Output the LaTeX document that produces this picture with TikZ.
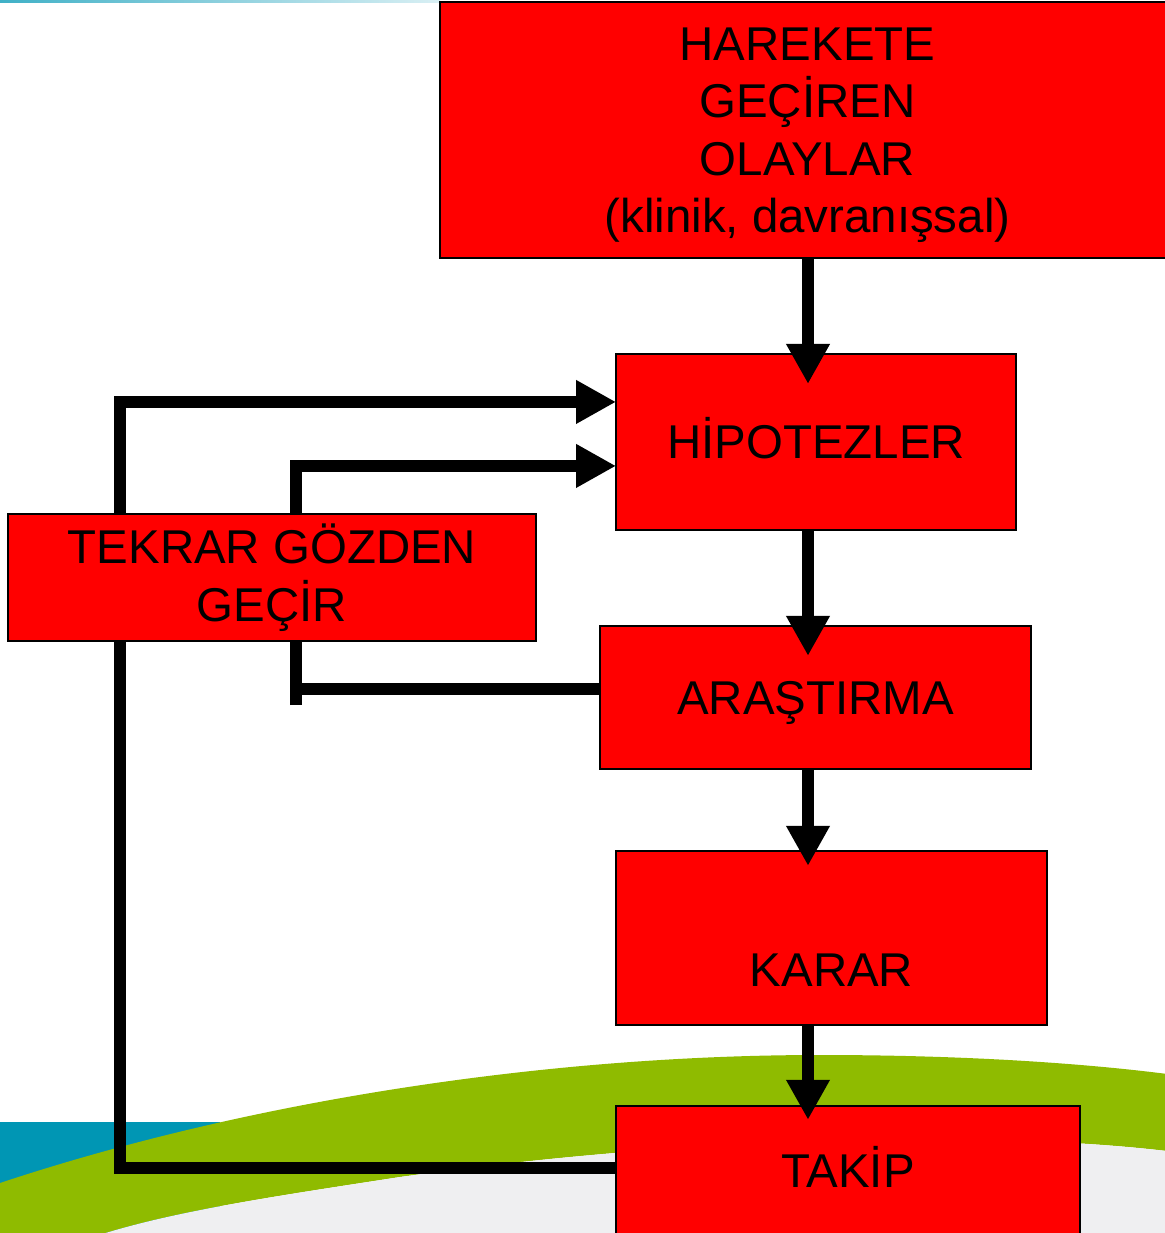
\documentclass[tikz,border=0pt]{standalone}
\usepackage{fontspec}
\setmainfont{Liberation Sans}
\usetikzlibrary{arrows.meta,positioning}

\definecolor{boxred}{RGB}{255,0,0}
\definecolor{seablue}{RGB}{0,150,180}
\definecolor{leafgreen}{RGB}{143,187,0}
\definecolor{lightgrey}{RGB}{239,239,241}

\pgfdeclarelayer{background}
\pgfdeclarelayer{lines}
\pgfsetlayers{background,lines,main}

\begin{document}
\begin{tikzpicture}[x=0.02cm,y=-0.02cm]

      \tikzstyle{redbox}=[rectangle,draw=black,line width=1.1pt,
        fill=boxred,outer sep=0pt,inner sep=0pt,align=center,
        text centered,font=\fontsize{27}{32.7}\selectfont]
      \tikzstyle{oneline}=[text height=19.4pt,text depth=0pt]
      \tikzstyle{thickline}=[line width=0.24cm,
        >={Triangle[length=0.8cm,width=0.82cm]}]

      \useasboundingbox (0,0) rectangle (1165,1233);

      % background
      \begin{pgfonlayer}{background}
        \fill[white] (0,0) rectangle (1165,1233);
        \shade[left color=seablue!75,right color=seablue!15]
        (0,0) rectangle (440,3);
        \fill[seablue] (0,1122) rectangle (220,1245);
        \fill[leafgreen] (-10,1190) -- (0,1183)
        .. controls (250,1100) and (550,1055) .. (820,1055)
        .. controls (980,1055) and (1100,1065) .. (1175,1075)
        -- (1175,1152)
        .. controls (1000,1130) and (700,1135) .. (400,1177)
        .. controls (250,1200) and (150,1215) .. (70,1245)
        -- (-10,1245) -- cycle;
        \fill[lightgrey] (1175,1152)
        .. controls (1000,1130) and (700,1135) .. (400,1177)
        .. controls (250,1200) and (150,1215) .. (70,1245)
        -- (1175,1245) -- cycle;
      \end{pgfonlayer}

      \node(olay)[redbox,minimum width=14.7cm,minimum height=5.12cm]
      at (807.5,130){HAREKETE\\GEÇİREN\\OLAYLAR\\
        \raisebox{0pt}[\height][0pt]{(klinik, davranışsal)}};
      \node(hipotez)[redbox,oneline,minimum width=8cm,
        minimum height=3.52cm,below=1.92cm of olay,
        xshift=0.17cm]{HİPOTEZLER};
      \node(arastirma)[redbox,oneline,minimum width=8.62cm,
        minimum height=2.86cm,below=1.92cm of hipotez,
        xshift=-0.01cm]{ARAŞTIRMA};
      \node(karar)[redbox,minimum width=8.62cm,minimum height=3.48cm,
        below=1.64cm of arastirma,xshift=0.32cm]{\strut\\KARAR};
      \node(takip)[redbox,oneline,minimum width=9.28cm,
        minimum height=2.6cm,below=1.62cm of karar,
        xshift=0.33cm]{TAKİP};
      \node(tekrar)[redbox,minimum width=10.56cm,minimum height=2.54cm]
      at (272,577.5){TEKRAR GÖZDEN\\GEÇİR};

      \coordinate(axis) at (808,0);
      \coordinate(outer) at (120,0);
      \coordinate(inner) at (296,705);

      \draw [thickline,->,shorten >=-0.6cm]
      (olay.south -| axis)--(hipotez.north -| axis);
      \draw [thickline,->,shorten >=-0.6cm]
      (hipotez.south -| axis)--(arastirma.north -| axis);
      \draw [thickline,->,shorten >=-0.3cm]
      (arastirma.south -| axis)--(karar.north -| axis);
      \draw [thickline,->,shorten >=-0.28cm]
      (karar.south -| axis)--(takip.north -| axis);

      % feedback lines, behind the boxes
      \begin{pgfonlayer}{lines}
        \draw [thickline,->]
        ([yshift=0.06cm]takip.west)--([yshift=0.06cm]takip.west -| outer)
        |- ([yshift=0.8cm]hipotez.west);
        \draw [thickline]
        ([yshift=0.17cm]arastirma.west) -| (inner);
        \draw [thickline,->]
        (inner) |- ([yshift=-0.48cm]hipotez.west);
      \end{pgfonlayer}

    \end{tikzpicture}
\end{document}
